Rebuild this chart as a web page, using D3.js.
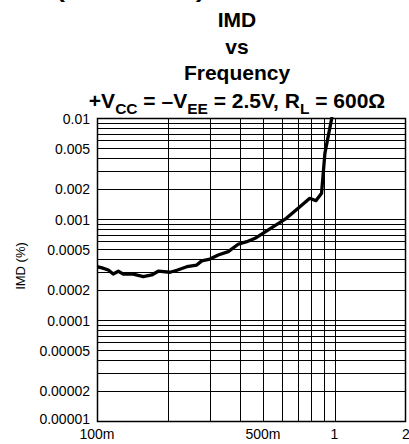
<!DOCTYPE html>
<html>
<head>
<meta charset="utf-8">
<script src="https://cdn.jsdelivr.net/npm/d3@7"></script>
<style>
  html, body { margin: 0; padding: 0; background: #fff; }
  svg { display: block; font-family: "Liberation Sans", Arial, sans-serif; }
</style>
</head>
<body>
<svg id="chart" width="409" height="444"></svg>
<script>
// ---- data ----
const freq = [0.1, 0.105, 0.1116, 0.117, 0.123, 0.129, 0.142, 0.1566, 0.170, 0.181, 0.203, 0.217, 0.239, 0.263, 0.276, 0.299, 0.324, 0.357, 0.393, 0.427, 0.463, 0.553, 0.627, 0.703, 0.787, 0.835, 0.882, 0.911, 0.974];
const imd  = [0.000337, 0.000328, 0.000313, 0.000285, 0.000304, 0.000285, 0.000285, 0.000269, 0.000279, 0.000304, 0.000297, 0.000311, 0.000337, 0.000350, 0.000385, 0.000401, 0.000440, 0.000475, 0.000562, 0.000596, 0.000644, 0.000839, 0.001016, 0.001276, 0.001603, 0.001518, 0.001796, 0.00447, 0.01];
const xTickValues = [0.1, 0.5, 1, 2];
const xTickLabels = ["100m", "500m", "1", "2"];
const yTickValues = [0.01, 0.005, 0.002, 0.001, 0.0005, 0.0002, 0.0001, 0.00005, 0.00002, 0.00001];
const yTickLabels = ["0.01", "0.005", "0.002", "0.001", "0.0005", "0.0002", "0.0001", "0.00005", "0.00002", "0.00001"];
const xGridValues = [0.2, 0.3, 0.4, 0.5, 0.6, 0.7, 0.8, 0.9, 1];
const titleLines = ["IMD", "vs", "Frequency"];

(function () {
// ---- layout ----
const svg = d3.select("#chart");
const pL = 97, pR = 406, pT = 118, pB = 421;
const x = d3.scaleLog().domain([0.1, 2]).range([pL, pR]);
const y = d3.scaleLog().domain([0.00001, 0.01]).range([pB, pT]);
const snap = v => Math.round(v) + 0.5;

// partially visible header text at the very top (cut off, as in the reference)
svg.append("text").attr("x", 56).attr("y", -2)
  .attr("font-size", 20).attr("font-weight", "bold")
  .attr("textLength", 149).attr("lengthAdjust", "spacingAndGlyphs")
  .text("(continued)");

// titles
const tx = 237;
const titleY = [27, 53.5, 80];
titleLines.forEach((t, i) => {
  svg.append("text").attr("x", tx).attr("y", titleY[i])
    .attr("text-anchor", "middle").attr("font-size", 21).attr("font-weight", "bold")
    .text(t);
});
const sub = svg.append("text").attr("x", tx).attr("y", 108)
  .attr("text-anchor", "middle").attr("font-size", 21).attr("font-weight", "bold");
const parts = [["+V", false], ["CC", true], [" = \u2013V", false], ["EE", true], [" = 2.5V, R", false], ["L", true], [" = 600\u03A9", false]];
parts.forEach(([t, s], i) => {
  const ts = sub.append("tspan").text(t);
  if (s) ts.attr("font-size", 15.5).attr("dy", 6);
  else if (i > 0 && parts[i - 1][1]) ts.attr("dy", -6);
});

// horizontal grid (all log minor lines)
const yGrid = [];
[0.00001, 0.0001, 0.001].forEach(dec => { for (let k = 1; k <= 9; k++) yGrid.push(dec * k); });
yGrid.push(0.01);
const g = svg.append("g");
g.selectAll("line.h").data(yGrid).enter().append("line")
  .attr("x1", pL).attr("x2", pR)
  .attr("y1", d => snap(y(d))).attr("y2", d => snap(y(d)))
  .attr("stroke", "#000").attr("stroke-width", 1);
g.selectAll("line.v").data(xGridValues).enter().append("line")
  .attr("y1", pT).attr("y2", pB)
  .attr("x1", d => snap(x(d))).attr("x2", d => snap(x(d)))
  .attr("stroke", "#000").attr("stroke-width", 1);

// border
svg.append("rect").attr("x", pL + 0.5).attr("y", pT + 0.5)
  .attr("width", pR - pL - 1).attr("height", pB - pT)
  .attr("fill", "none").attr("stroke", "#000").attr("stroke-width", 1.5);

// curve
svg.append("clipPath").attr("id", "clip").append("rect")
  .attr("x", pL).attr("y", pT - 1).attr("width", pR - pL).attr("height", pB - pT + 1);
const line = d3.line().x((d, i) => x(freq[i])).y((d, i) => y(imd[i]));
svg.append("path").datum(imd).attr("d", line)
  .attr("clip-path", "url(#clip)")
  .attr("fill", "none").attr("stroke", "#000").attr("stroke-width", 3.3)
  .attr("stroke-linejoin", "round").attr("stroke-linecap", "round");

// y tick labels
svg.selectAll("text.yt").data(yTickValues).enter().append("text")
  .attr("x", 90).attr("y", (d, i) => y(d) + (i === yTickValues.length - 1 ? 2.5 : 5.5))
  .attr("text-anchor", "end").attr("font-size", 14)
  .text((d, i) => yTickLabels[i]);

// x tick labels
svg.selectAll("text.xt").data(xTickValues).enter().append("text")
  .attr("x", d => x(d)).attr("y", 439)
  .attr("text-anchor", "middle").attr("font-size", 14)
  .text((d, i) => xTickLabels[i]);

// y axis title
svg.append("text").attr("transform", "translate(25,266) rotate(-90)")
  .attr("text-anchor", "middle").attr("font-size", 13)
  .text("IMD (%)");
})();
</script>
</body>
</html>
